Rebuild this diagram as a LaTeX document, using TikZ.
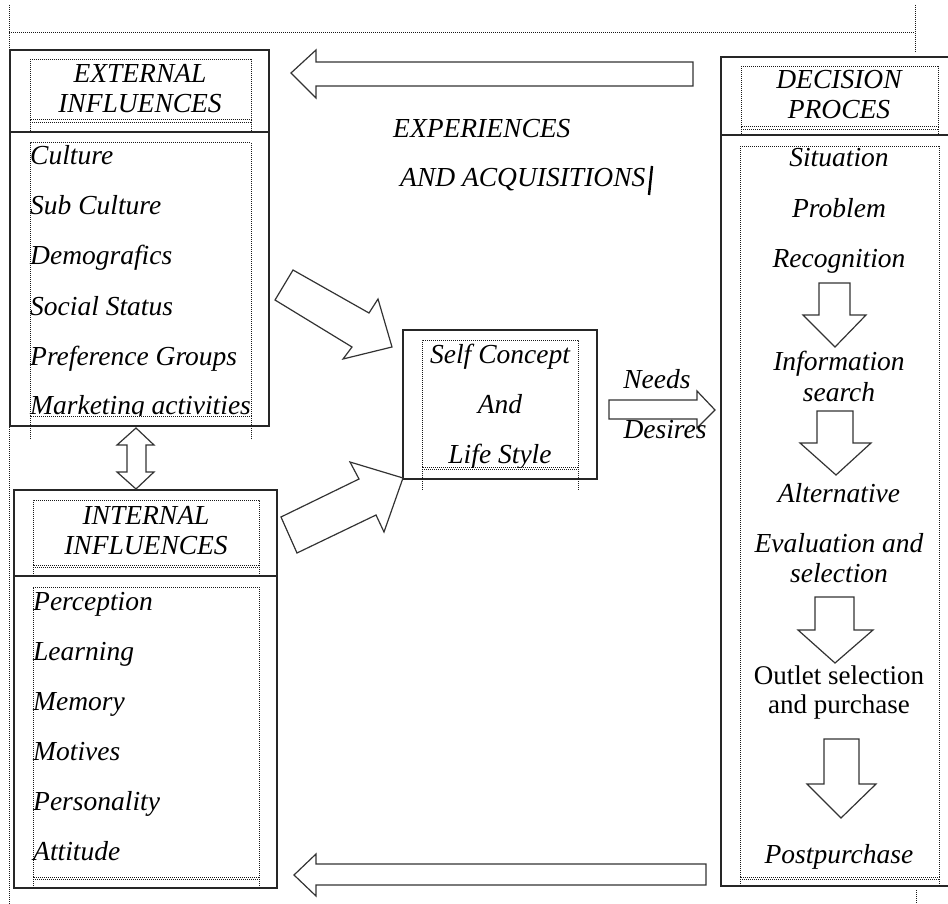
\documentclass[tikz,border=0pt]{standalone}
\usepackage{fontspec}
\setmainfont{Liberation Serif}
\begin{document}
\begin{tikzpicture}[x=1pt,y=-1pt,
  solidline/.style={draw=black!85, line width=1.3pt},
  dotline/.style={draw=black!90, line width=1pt, dash pattern=on 1pt off 1pt},
  framebox/.style={solidline, inner sep=0pt, outer sep=0pt, anchor=north west},
  blockarrow/.style={draw=black!80, line width=1.2pt, fill=white, line join=miter},
  txt/.style={inner sep=0pt, font=\fontsize{27.5}{31}\selectfont\itshape},
  rtxt/.style={inner sep=0pt, font=\fontsize{27}{31}\selectfont},
  item/.style={txt, anchor=base west},
  citem/.style={txt, anchor=base},
]
\useasboundingbox (0,0) rectangle (948,904);

% outer dotted frame
\coordinate (fTL) at (9,33);
\coordinate (fTR) at (915,33);
\draw[dotline] (9,5) -- (9,904);
\draw[dotline] (fTL) -- (fTR);
\draw[dotline] (915,5) -- (915,52);
\draw[dotline] (916,890) -- (916,904);

% ---------- External influences ----------
\node[framebox, minimum width=259pt, minimum height=376pt] (ext) at (10,50) {};
\draw[solidline] (10,132) -- (269,132);
\draw[dotline] (30,120) -- (30,60) -- (251,60) -- (251,120) -- cycle;
\draw[dotline] (30,122.5) -- (251,122.5);
\draw[dotline] (30,120) -- (30,132) (251,120) -- (251,132);
\draw[dotline] (30,416) -- (30,143) -- (251,143) -- (251,416) -- cycle;
\draw[dotline] (30,416) -- (30,439) (251,416) -- (251,439);
\node[citem] (extT1) at (140,83) {EXTERNAL};
\node[citem] (extT2) at (140,113) {INFLUENCES};
\node[item] (e1) at (30,165) {Culture};
\node[item] (e2) at (30,215) {Sub Culture};
\node[item] (e3) at (30,265) {Demografics};
\node[item] (e4) at (30,315) {Social Status};
\node[item] (e5) at (30,365) {Preference Groups};
\begin{scope}
\clip (20,380) rectangle (260,415.5);
\node[item] (e6) at (30,414) {Marketing activities};
\end{scope}

% ---------- Internal influences ----------
\node[framebox, minimum width=263pt, minimum height=398pt] (int) at (14,490) {};
\draw[solidline] (14,576) -- (277,576);
\draw[dotline] (33,565) -- (33,500) -- (259,500) -- (259,565) -- cycle;
\draw[dotline] (33,567.5) -- (259,567.5);
\draw[dotline] (33,565) -- (33,576) (259,565) -- (259,576);
\draw[dotline] (33,877) -- (33,587) -- (259,587) -- (259,877) -- cycle;
\draw[dotline] (33,879.5) -- (259,879.5);
\draw[dotline] (33,877) -- (33,888) (259,877) -- (259,888);
\node[citem] (intT1) at (146,524) {INTERNAL};
\node[citem] (intT2) at (146,554) {INFLUENCES};
\node[item] (i1) at (33,610) {Perception};
\node[item] (i2) at (33,660) {Learning};
\node[item] (i3) at (33,710) {Memory};
\node[item] (i4) at (33,760) {Motives};
\node[item] (i5) at (33,810) {Personality};
\node[item] (i6) at (33,860) {Attitude};

% ---------- Decision process ----------
\coordinate (dTR) at (948,57);
\coordinate (dBR) at (948,886);
\draw[solidline] (dTR) -- (721,57) -- (721,886) -- (dBR);
\draw[solidline] (721,135) -- (948,135);
\draw[dotline] (741,127) -- (741,67) -- (938,67) -- (938,127) -- cycle;
\draw[dotline] (741,129.5) -- (938,129.5);
\draw[dotline] (741,127) -- (741,135) (938,127) -- (938,135);
\draw[dotline] (740,877) -- (740,147) -- (939,147) -- (939,877) -- cycle;
\draw[dotline] (740,879.5) -- (939,879.5);
\draw[dotline] (740,877) -- (740,886) (939,877) -- (939,886);
\node[citem] (decT1) at (839,89) {DECISION};
\node[citem] (decT2) at (839,119) {PROCES};
\node[citem] (d1) at (839,167) {Situation};
\node[citem] (d2) at (839,218) {Problem};
\node[citem] (d3) at (839,268) {Recognition};
\node[citem] (d4) at (839,370) {Information};
\node[citem] (d5) at (839,401) {search};
\node[citem] (d6) at (839,502) {Alternative};
\node[citem] (d7) at (839,552) {Evaluation and};
\node[citem] (d8) at (839,582) {selection};
\node[rtxt, anchor=base] (d9) at (839,684) {Outlet selection};
\node[rtxt, anchor=base] (d10) at (839,713) {and purchase};
\node[citem] (d11) at (839,863) {Postpurchase};

% down arrows in decision box
\draw[blockarrow] (819,283) -- (850,283) -- (850,315) -- (866,315) -- (835,347) -- (803,315) -- (819,315) -- cycle;
\draw[blockarrow] (817,411) -- (853,411) -- (853,443) -- (871,443) -- (836,475) -- (800,443) -- (817,443) -- cycle;
\draw[blockarrow] (815,597) -- (854,597) -- (854,630) -- (873,630) -- (835,663) -- (798,630) -- (815,630) -- cycle;
\draw[blockarrow] (824,739) -- (859,739) -- (859,784) -- (876,784) -- (841,818) -- (807,784) -- (824,784) -- cycle;

% ---------- Self concept ----------
\node[framebox, minimum width=194pt, minimum height=149pt] (self) at (403,330) {};
\draw[dotline] (422,467) -- (422,340) -- (578,340) -- (578,467) -- cycle;
\draw[dotline] (422,469.5) -- (578,469.5);
\draw[dotline] (422,467) -- (422,490) (578,467) -- (578,490);
\node[citem] (s1) at (500,363) {Self Concept};
\node[citem] (s2) at (500,413) {And};
\begin{scope}
\clip (410,430) rectangle (590,467);
\node[citem] (s3) at (500,463) {Life Style};
\end{scope}

% ---------- big arrows ----------
\draw[blockarrow] (693,62) -- (316,62) -- (316,50) -- (291,73) -- (316,98) -- (316,86) -- (693,86) -- cycle;
\draw[blockarrow] (706,864) -- (316,864) -- (316,854) -- (294,875) -- (316,896) -- (316,885) -- (706,885) -- cycle;
\draw[blockarrow] (136,428) -- (154,445) -- (146,445) -- (146,472) -- (154,472) -- (136,489) -- (117,472) -- (127,472) -- (127,445) -- (117,445) -- cycle;
\draw[blockarrow] (293,270) -- (369,313) -- (378,299) -- (392,347) -- (343,359) -- (352,347) -- (275,300) -- cycle;
\draw[blockarrow] (281,517) -- (359,479) -- (350,462) -- (403,478) -- (384,532) -- (376,515) -- (297,553) -- cycle;
\draw[blockarrow] (609,400) -- (697,400) -- (697,391) -- (715,410) -- (697,428) -- (697,419) -- (609,419) -- cycle;

% labels
\node[item] (exp1) at (393,138) {EXPERIENCES};
\node[item] (exp2) at (400,187) {AND ACQUISITIONS};
\draw[line width=2.4pt] (652,166) -- (649,195);
\node[citem] (needs) at (657,388) {Needs};
\node[citem] (desires) at (665,438) {Desires};
\end{tikzpicture}
\end{document}
